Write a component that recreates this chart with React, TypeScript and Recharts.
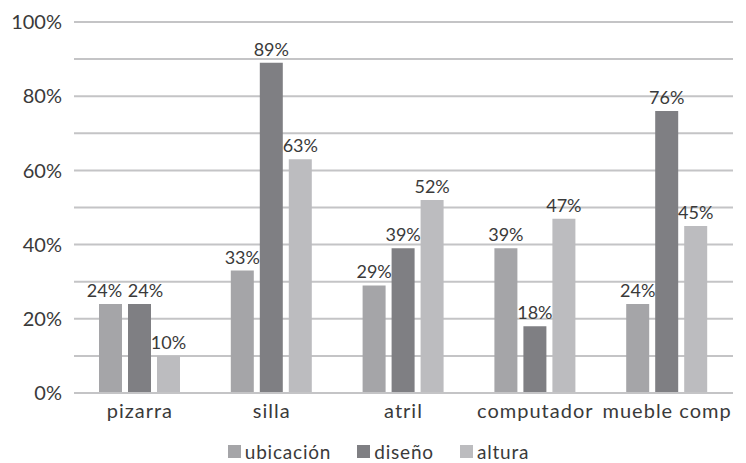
import React from 'react';
import { BarChart, Bar, XAxis, YAxis, CartesianGrid, Legend, LabelList } from 'recharts';

const categories = ['pizarra', 'silla', 'atril', 'computador', 'mueble comp'];
const ubicacion = [24, 33, 29, 39, 24];
const diseno = [24, 89, 39, 18, 76];
const altura = [10, 63, 52, 47, 45];
const yTicks = [0, 10, 20, 30, 40, 50, 60, 70, 80, 90, 100];

const seriesList = [
  { key: 'ubicacion', name: 'ubicación', color: '#a5a5a8', values: ubicacion },
  { key: 'diseno', name: 'diseño', color: '#7f7f83', values: diseno },
  { key: 'altura', name: 'altura', color: '#bcbcbf', values: altura },
];

const data = categories.map((c, i) => ({
  name: c,
  ubicacion: ubicacion[i],
  diseno: diseno[i],
  altura: altura[i],
}));

const FONT = 'Lato, "Open Sans", sans-serif';
const TEXT = '#3a3a3a';

// label that nudges apart two adjacent labels at the same height
const makeLabel = (si: number) => (props: any) => {
  const { x, y, width, value, index } = props;
  const vals = seriesList[si].values;
  let dx = 0;
  const prev = si > 0 ? seriesList[si - 1].values[index] : undefined;
  const next = si < seriesList.length - 1 ? seriesList[si + 1].values[index] : undefined;
  if (next !== undefined && Math.abs(next - vals[index]) <= 3) dx -= 6;
  if (prev !== undefined && Math.abs(prev - vals[index]) <= 3) dx += 6;
  return (
    <text
      x={x + width / 2 + dx}
      y={y - 7}
      textAnchor="middle"
      fill={TEXT}
      fontSize={18}
      fontFamily={FONT}
    >
      {`${value}%`}
    </text>
  );
};

const LegendContent = () => (
  <div
    style={{
      display: 'flex',
      justifyContent: 'center',
      gap: 26,
      paddingTop: 13,
      paddingLeft: 24,
      fontFamily: FONT,
      fontSize: 19,
      color: TEXT,
    }}
  >
    {seriesList.map((s) => (
      <div key={s.key} style={{ display: 'flex', alignItems: 'center' }}>
        <span style={{ display: 'inline-block', width: 13, height: 13, background: s.color, marginRight: 4 }} />
        <span style={{ letterSpacing: 0.8 }}>{s.name}</span>
      </div>
    ))}
  </div>
);

export default function App() {
  return (
    <div style={{ position: 'absolute', left: 0, top: 0, width: 746, height: 463, background: '#fff' }}>
      <BarChart
        width={746}
        height={463}
        data={data}
        margin={{ top: 22, right: 13, bottom: 0, left: 0 }}
        barGap={6}
        barSize={23}
      >
        <CartesianGrid vertical={false} stroke="#c4c4c6" strokeWidth={2} />
        <XAxis
          dataKey="name"
          axisLine={{ stroke: '#c4c4c6', strokeWidth: 2 }}
          tickLine={false}
          tick={{ fill: TEXT, fontSize: 20, fontFamily: FONT, letterSpacing: 1 }}
          tickMargin={5}
          height={34}
        />
        <YAxis
          domain={[0, 100]}
          ticks={yTicks}
          interval={0}
          tickFormatter={(v: number) => (v % 20 === 0 ? `${v}%` : '')}
          axisLine={false}
          tickLine={false}
          tickSize={0}
          tickMargin={12}
          width={74}
          tick={{ fill: TEXT, fontSize: 20, fontFamily: FONT }}
        />
        <Legend verticalAlign="bottom" align="center" height={36} content={<LegendContent />} />
        {seriesList.map((s, si) => (
          <Bar key={s.key} dataKey={s.key} name={s.name} fill={s.color} isAnimationActive={false}>
            <LabelList dataKey={s.key} content={makeLabel(si)} />
          </Bar>
        ))}
      </BarChart>
    </div>
  );
}
